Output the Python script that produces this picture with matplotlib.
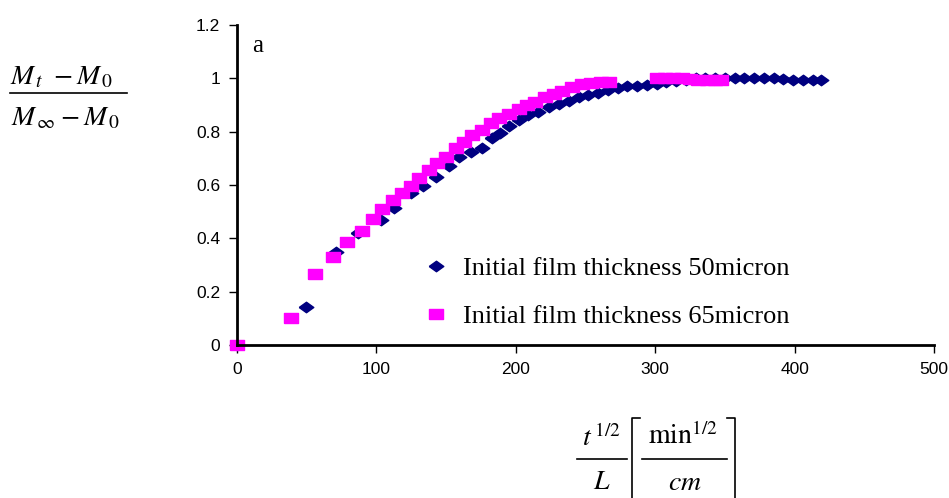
import numpy as np
import matplotlib
matplotlib.use("Agg")
import matplotlib.pyplot as plt
from matplotlib.lines import Line2D

plt.rcParams['mathtext.fontset'] = 'stix'

# 50 micron film (diamonds)
x50 = [0, 49.8, 70.7, 86.7, 103.3, 112.9, 124.8, 133.6, 142.6, 152, 159.3, 167.6,
       176, 183, 189, 195, 202, 209, 216, 223.6, 230.7, 237.9, 245, 252, 259, 266,
       273, 280, 287, 294, 301, 308, 315, 322, 329, 336, 343, 350, 357, 364, 371,
       378, 385, 392, 399, 406, 413, 419]
y50 = [0, 0.144, 0.35, 0.419, 0.469, 0.515, 0.569, 0.597, 0.631, 0.672, 0.706, 0.722,
       0.74, 0.775, 0.794, 0.821, 0.844, 0.862, 0.875, 0.891, 0.904, 0.916, 0.929,
       0.938, 0.946, 0.956, 0.965, 0.97, 0.972, 0.975, 0.98, 0.985, 0.99, 0.995,
       1.0, 1.0, 1.0, 1.0, 1.0, 1.0, 1.0, 1.0, 1.0, 0.998, 0.993, 0.992, 0.992, 0.992]

# 65 micron film (squares)
x65 = [0, 39.0, 55.7, 68.8, 78.8, 89.5, 97.9, 103.8, 112.1, 118.1, 124.8, 130.7,
       137.9, 143.8, 149.8, 157, 162.9, 168.8, 176, 181.9, 187.9, 195, 202.1, 208.1,
       214, 221.2, 227.1, 233.1, 240.2, 247.4, 254, 261, 267,
       301, 307, 313, 319, 325, 331, 337, 343, 347]
y65 = [0, 0.1, 0.265, 0.329, 0.388, 0.429, 0.471, 0.51, 0.544, 0.569, 0.597, 0.625,
       0.656, 0.681, 0.706, 0.738, 0.763, 0.788, 0.806, 0.831, 0.85, 0.865, 0.884, 0.9,
       0.913, 0.929, 0.942, 0.954, 0.969, 0.979, 0.982, 0.986, 0.988,
       1.0, 1.0, 1.0, 1.0, 0.998, 0.994, 0.993, 0.992, 0.992]

W, H = 949, 498
diamond = [(-1, 0), (0, 0.72), (1, 0), (0, -0.72), (-1, 0)]
rect = [(-1, -0.79), (1, -0.79), (1, 0.79), (-1, 0.79), (-1, -0.79)]

fig = plt.figure(figsize=(W / 100, H / 100), dpi=100)
ax = fig.add_axes([237 / W, 153 / H, 697 / W, 320 / H])

ax.plot(x50, y50, marker=diamond, color='#000080', markersize=10.5, linestyle='none',
        label='Initial film thickness 50micron', clip_on=False)
ax.plot(x65, y65, marker=rect, color='#ff00ff', markersize=10, linestyle='none',
        label='Initial film thickness 65micron', clip_on=False)

ax.set_xlim(0, 500)
ax.set_ylim(0, 1.2)
ax.set_xticks([0, 100, 200, 300, 400, 500])
ax.set_yticks([0, 0.2, 0.4, 0.6, 0.8, 1, 1.2])
ax.set_yticklabels(['0', '0.2', '0.4', '0.6', '0.8', '1', '1.2'])
for s in ['top', 'right']:
    ax.spines[s].set_visible(False)
for s in ['left', 'bottom']:
    ax.spines[s].set_linewidth(2)
ax.tick_params(direction='out', length=6, width=1, labelsize=12.5, pad=6)
for lab in ax.get_xticklabels() + ax.get_yticklabels():
    lab.set_fontfamily('Liberation Sans')
ax.patch.set_visible(False)

ax.text(0.021, 0.935, 'a', transform=ax.transAxes, fontsize=18,
        family='Liberation Serif', va='center')

ax.legend(loc='center left', bbox_to_anchor=(0.267, 0.164), frameon=False,
          prop={'family': 'Liberation Serif', 'size': 19},
          borderpad=0, borderaxespad=0, handlelength=1.0,
          handletextpad=0.5, labelspacing=0.93)


def fx(px):
    return px / W


def fy(py):
    return 1 - py / H


# y-axis label as a hand-built fraction
fig.text(fx(62), fy(76), r'$M_{\,t}\ -M_{\,0}$', fontsize=20, ha='center', va='center')
fig.add_artist(Line2D([fx(10), fx(127)], [fy(93), fy(93)], color='black', lw=1.2))
fig.text(fx(65), fy(117), r'$M_{\,\infty}-M_{\,0}$', fontsize=20, ha='center', va='center')

# x-axis label
fig.text(fx(601), fy(438), r'$t^{\,1/2}$', fontsize=20, ha='center', va='center')
fig.add_artist(Line2D([fx(577), fx(627)], [fy(459), fy(459)], color='black', lw=1.2))
fig.text(fx(602), fy(481), r'$L$', fontsize=20, ha='center', va='center')
fig.text(fx(683), fy(436), r'$\mathrm{min}^{1/2}$', fontsize=20, ha='center', va='center')
fig.add_artist(Line2D([fx(642), fx(727)], [fy(459), fy(459)], color='black', lw=1.2))
fig.text(fx(685), fy(482), r'$cm$', fontsize=20, ha='center', va='center')
fig.add_artist(Line2D([fx(640), fx(632), fx(632)], [fy(418), fy(418), fy(500)],
                      color='black', lw=1.2))
fig.add_artist(Line2D([fx(727), fx(735), fx(735)], [fy(418), fy(418), fy(500)],
                      color='black', lw=1.2))

fig.savefig('out.png', dpi=100)
